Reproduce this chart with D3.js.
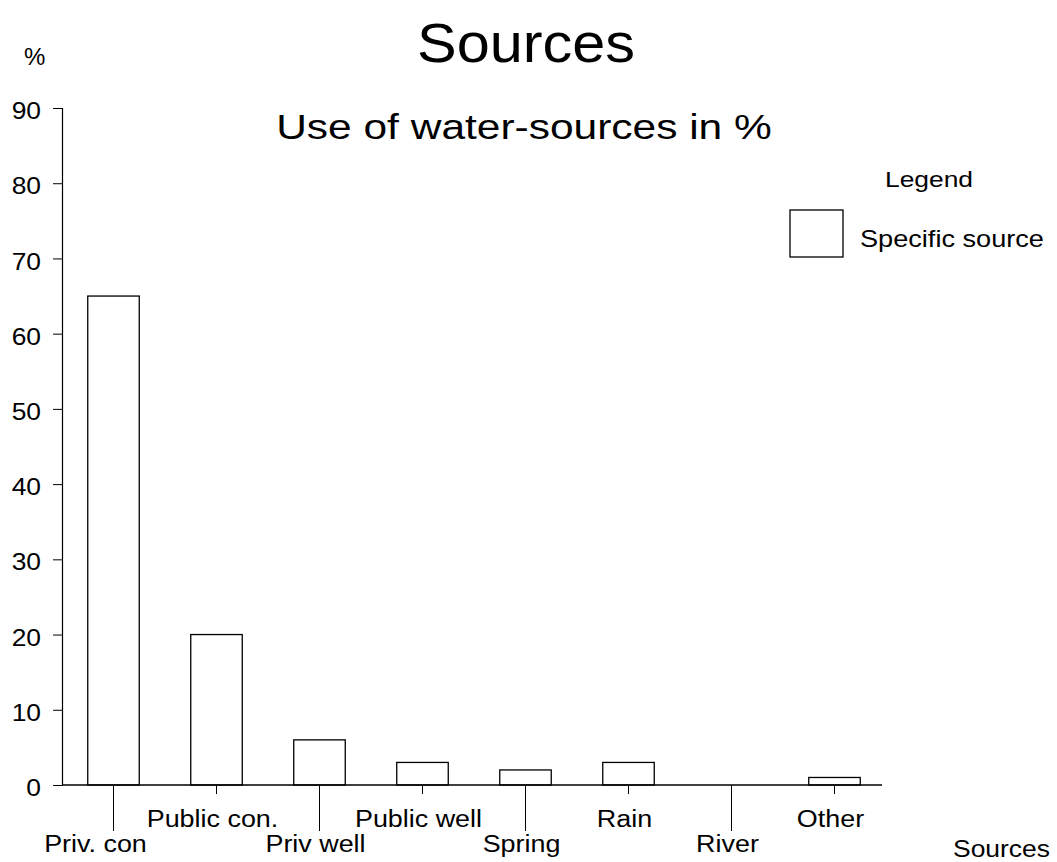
<!DOCTYPE html>
<html><head><meta charset="utf-8">
<script src="https://cdn.jsdelivr.net/npm/d3@7"></script>
<style>body{margin:0;background:#fff}svg{font-family:"Liberation Sans",Arial,sans-serif}</style>
</head><body><svg id="c" width="1057" height="862"></svg>
<script>
const categories = ["Priv. con","Public con.","Priv  well","Public well","Spring","Rain","River","Other"];
const values = [65, 20, 6, 3, 2, 3, 0, 1];
const yTicks = [0,10,20,30,40,50,60,70,80,90];

const svg = d3.select("#c");
const x = d3.scaleBand().domain(categories).range([62, 886]).paddingInner(0.5).paddingOuter(0.25);
const y = d3.scaleLinear().domain([0, 90]).range([785, 108]);

function addText(g, tx, ty, str, size, sx, anchor) {
  return g.append("text")
    .attr("transform", `translate(${tx},${ty}) scale(${sx},1)`)
    .attr("text-anchor", anchor || "start")
    .attr("font-size", size)
    .attr("fill", "#000")
    .text(str);
}

// titles
addText(svg, 526, 62, "Sources", 55, 1.08, "middle");
addText(svg, 524, 139, "Use of water-sources in %", 36, 1.18, "middle");
addText(svg, 24, 65, "%", 24, 1.0, "start");

// y axis
const yAxis = d3.axisLeft(y).tickValues(yTicks).tickSize(9).tickPadding(12);
const gy = svg.append("g").attr("transform","translate(62,0)").call(yAxis);
gy.select(".domain").attr("d", "M-9,108.5H0.5V785.5").attr("stroke","#000").attr("stroke-width",1.2);
gy.selectAll(".tick line").attr("stroke","#000");
gy.selectAll(".tick text")
  .attr("x", null).attr("dy", "0.36em")
  .attr("transform", "translate(-21,2) scale(1.1,1)")
  .attr("font-size", 24)
  .attr("font-family", "Liberation Sans, Arial, sans-serif")
  .attr("fill", "#000");

// bars
svg.append("g").selectAll("rect").data(values).join("rect")
  .attr("x", (d,i) => x(categories[i]))
  .attr("y", d => y(d))
  .attr("width", x.bandwidth())
  .attr("height", d => y(0) - y(d))
  .attr("fill","#fff").attr("stroke","#000").attr("stroke-width",1.3);

// x axis baseline
svg.append("line").attr("x1",62).attr("x2",882).attr("y1",y(0)).attr("y2",y(0)).attr("stroke","#000").attr("stroke-width",1.3);

// x ticks & labels (staggered)
const gx = svg.append("g");
categories.forEach((c,i) => {
  const cx = x(c) + x.bandwidth()/2;
  const long = i % 2 === 0;
  gx.append("line").attr("x1",cx).attr("x2",cx).attr("y1",y(0)).attr("y2", long ? 831 : 794).attr("stroke","#000");
  const shift = i === 0 ? -18 : -4;
  addText(gx, cx + shift, long ? 852 : 827, c, 23, 1.17, "middle");
});
addText(svg, 953, 857, "Sources", 23, 1.15, "start");

// legend
addText(svg, 929, 187, "Legend", 22, 1.2, "middle");
svg.append("rect").attr("x",790).attr("y",210).attr("width",53).attr("height",47).attr("fill","#fff").attr("stroke","#000").attr("stroke-width",1.3);
addText(svg, 860, 247, "Specific source", 23, 1.18, "start");
</script></body></html>
